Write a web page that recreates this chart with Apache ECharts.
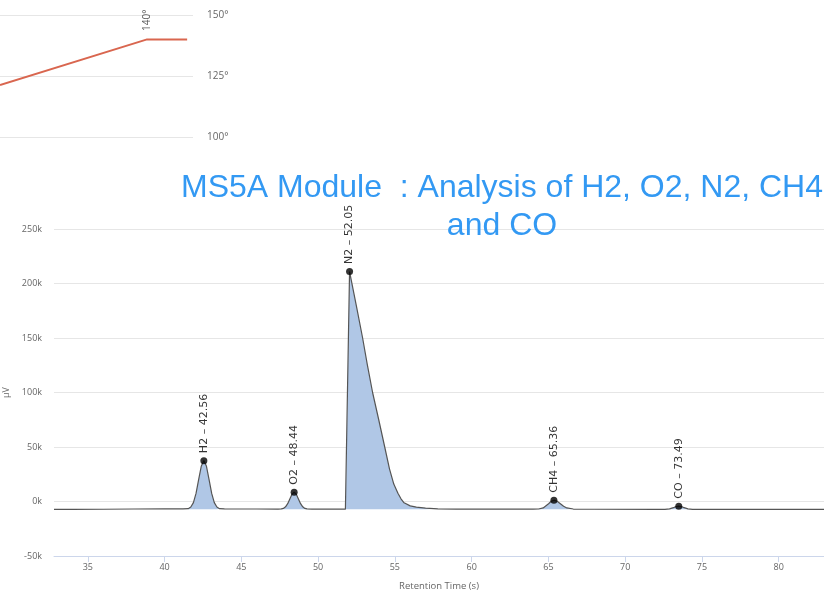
<!DOCTYPE html>
<html>
<head>
<meta charset="utf-8">
<script src="https://cdn.jsdelivr.net/npm/echarts@6/dist/echarts.min.js"></script>
<style>html,body{margin:0;padding:0;background:#fff}#c{width:824px;height:591px}</style>
</head>
<body>
<div id="c"></div>
<script>
// ---- Temperature program (top panel) ----
const tempTime = [0, 6.02, 7.66];
const tempValue = [121.3, 140, 140];
const tempLabelIndex = 1;

// ---- Chromatogram signal (time s, µV) ----
const signalTime = [
  32.8, 34, 36, 38, 40, 41.2,
  41.54, 41.71, 41.88, 42.05, 42.22, 42.39, 42.56, 42.73, 42.90, 43.07, 43.24, 43.41, 43.58, 43.9,
  46, 47.4,
  47.60, 47.74, 47.88, 48.02, 48.16, 48.30, 48.44, 48.58, 48.72, 48.86, 49.00, 49.14, 49.28, 49.6,
  51.0, 51.78,
  51.80, 52.05, 52.5, 52.9, 53.2, 53.55, 53.95, 54.34, 54.65, 54.93, 55.2, 55.4, 55.6, 56.0, 56.4, 57.0, 57.8, 59,
  62, 64.0,
  64.36, 64.66, 65.01, 65.185, 65.36, 65.57, 65.78, 65.99, 66.20, 66.62,
  68, 72.0,
  72.59, 72.89, 73.19, 73.34, 73.49, 73.64, 73.79, 74.09, 74.39,
  76, 80, 82.95
];
const signalValue = [
  -7300, -7250, -7100, -6900, -6800, -6800,
  -6550, -5100, -1000, 7400, 20000, 32300, 37500, 32300, 20000, 7400, -1000, -5100, -6550, -6850,
  -6900, -6950,
  -6830, -6320, -4900, -1970, 2400, 6680, 8500, 6680, 2400, -1970, -4900, -6320, -6830, -6950,
  -7000, -7000,
  -6900, 211000, 179000, 150000, 126000, 100000, 75000, 50000, 30000, 16000, 7500, 2500, -1200, -4000, -5200, -6000, -6700, -7000,
  -7050, -7050,
  -6870, -5890, -2030, 240, 1200, 240, -2030, -4340, -5890, -6910,
  -7100, -7150,
  -7170, -6810, -5440, -4640, -4300, -4640, -5440, -6810, -7170,
  -7250, -7300, -7300
];

// ---- Peaks ----
const peakNames = ['H2', 'O2', 'N2', 'CH4', 'CO'];
const peakTimes = [42.56, 48.44, 52.05, 65.36, 73.49];
const peakValues = [37500, 8500, 211000, 1200, -4300];
const peakStart = [41.54, 47.60, 51.80, 64.36, 72.59];
const peakEnd = [43.58, 49.28, 57.8, 66.62, 74.39];

// ---- Axis ticks ----
const yTicks = { min: -50000, max: 250000, step: 50000 };
const tempTicks = { min: 100, max: 150, step: 25 };

const TITLE = 'MS5A Module  : Analysis of H2, O2, N2, CH4\nand CO';

const signal = signalTime.map((t, i) => [t, signalValue[i]]);
const fillSeries = peakStart.map((s, k) => ({
  type: 'line',
  xAxisIndex: 1, yAxisIndex: 1,
  data: signal.filter(p => p[0] >= s && p[0] <= peakEnd[k]),
  symbol: 'none',
  lineStyle: { width: 0 },
  areaStyle: { color: '#b0c7e6', opacity: 1, origin: -7050 },
  silent: true,
  z: 1
}));

const axisLabelFont = { fontFamily: 'Open Sans', fontSize: 9, color: '#666' };

const chart = echarts.init(document.getElementById('c'), null, { renderer: 'canvas' });
chart.setOption({
  animation: false,
  backgroundColor: '#fff',
  graphic: [{
    type: 'text', x: 502, y: 169, z: 100,
    style: {
      text: TITLE, textAlign: 'center', textVerticalAlign: 'top',
      fill: '#3399f3', font: '32px "Liberation Sans"', lineHeight: 38
    }
  }],
  grid: [
    { left: 0, top: 15, width: 193, height: 122, outerBoundsMode: 'none', containLabel: false },
    { left: 54, top: 229, right: 0, height: 327, outerBoundsMode: 'none', containLabel: false }
  ],
  xAxis: [
    { gridIndex: 0, type: 'value', min: 0, max: 7.9, show: false },
    {
      gridIndex: 1, type: 'value', min: 32.8, max: 82.95, splitNumber: 10,
      axisLine: { onZero: false, lineStyle: { color: '#ccd6eb' } },
      axisTick: { length: 6, lineStyle: { color: '#ccd6eb' } },
      axisLabel: Object.assign({ margin: 7, showMinLabel: false, showMaxLabel: false }, axisLabelFont),
      splitLine: { show: false },
      name: 'Retention Time (s)', nameLocation: 'middle', nameGap: 25,
      nameTextStyle: { fontFamily: 'Open Sans', fontSize: 9.5, color: '#666' }
    }
  ],
  yAxis: [
    {
      gridIndex: 0, type: 'value', position: 'right',
      min: tempTicks.min, max: tempTicks.max, interval: tempTicks.step,
      axisLine: { show: false }, axisTick: { show: false },
      axisLabel: { formatter: '{value}°', margin: 14, fontFamily: 'Open Sans', fontSize: 10, color: '#666' },
      splitLine: { lineStyle: { color: '#e6e6e6' } }
    },
    {
      gridIndex: 1, type: 'value',
      min: yTicks.min, max: yTicks.max, interval: yTicks.step,
      axisLine: { show: false }, axisTick: { show: false },
      axisLabel: Object.assign({ margin: 12, formatter: v => (v / 1000) + 'k' }, axisLabelFont),
      splitLine: { lineStyle: { color: '#e6e6e6' } },
      name: 'µV', nameLocation: 'middle', nameGap: 42, nameRotate: 90,
      nameTextStyle: { fontFamily: 'Open Sans', fontSize: 9, color: '#666' }
    }
  ],
  series: [
    {
      type: 'line', xAxisIndex: 0, yAxisIndex: 0,
      data: tempTime.map((t, i) => [t, tempValue[i]]),
      symbol: 'none',
      lineStyle: { color: '#d9664f', width: 2 },
      z: 3
    },
    {
      type: 'scatter', xAxisIndex: 0, yAxisIndex: 0,
      data: [[tempTime[tempLabelIndex], tempValue[tempLabelIndex]]],
      symbol: 'circle', symbolSize: 1,
      itemStyle: { color: 'rgba(0,0,0,0)' },
      label: {
        show: true, position: 'top', rotate: 90, align: 'left', verticalAlign: 'middle',
        distance: 8, formatter: p => p.value[1] + '°',
        fontFamily: 'Open Sans', fontSize: 10, color: '#333'
      },
      silent: true,
      z: 4
    },
    ...fillSeries,
    {
      type: 'line', xAxisIndex: 1, yAxisIndex: 1,
      data: signal, symbol: 'none',
      lineStyle: { color: '#555', width: 1.2 },
      z: 3
    },
    {
      type: 'scatter', xAxisIndex: 1, yAxisIndex: 1,
      data: peakTimes.map((t, i) => ({ value: [t, peakValues[i]], name: peakNames[i] })),
      symbol: 'circle', symbolSize: 7,
      itemStyle: { color: '#000' },
      label: {
        show: true, position: 'top', rotate: 90, align: 'left', verticalAlign: 'middle',
        distance: 4, formatter: p => p.name + ' \u2013 ' + p.value[0].toFixed(2),
        fontFamily: 'DejaVu Sans', fontSize: 11, color: '#000'
      },
      z: 5
    }
  ]
});
</script>
</body>
</html>
